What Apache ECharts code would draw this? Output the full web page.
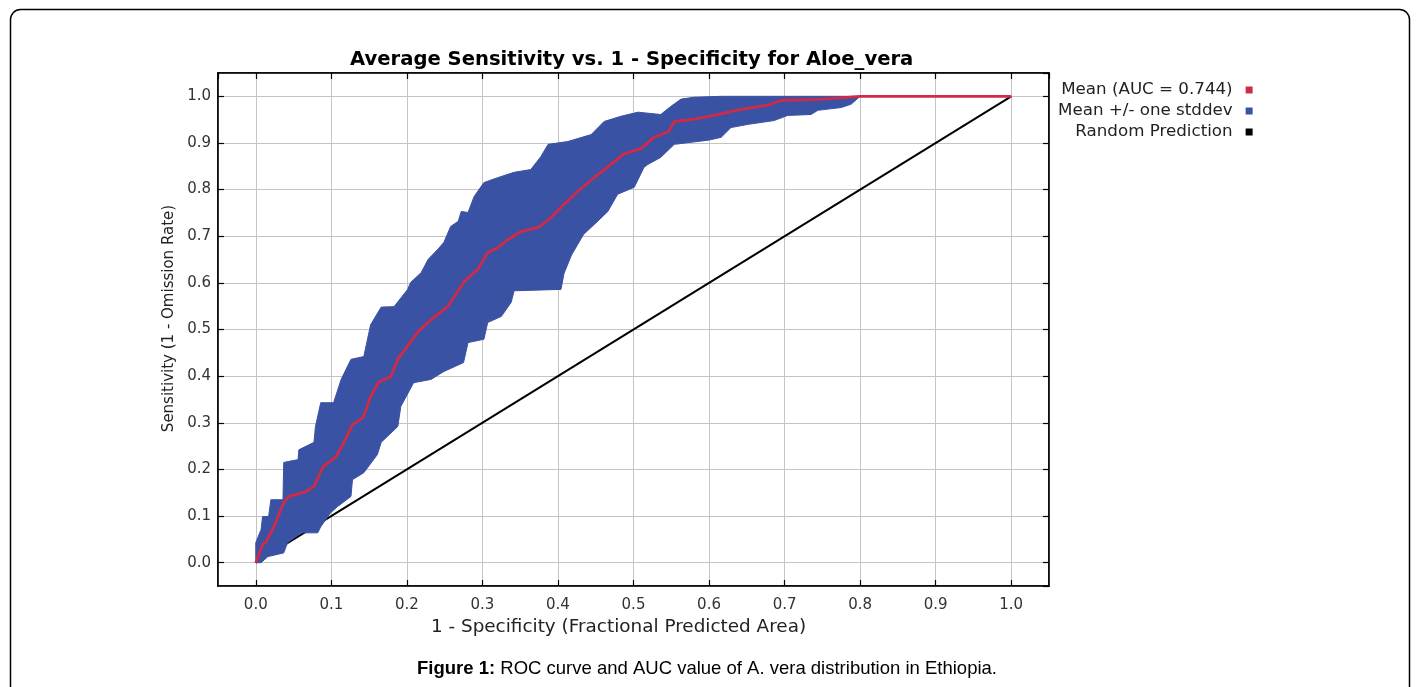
<!DOCTYPE html>
<html>
<head>
<meta charset="utf-8">
<script src="https://cdn.jsdelivr.net/npm/echarts@6/dist/echarts.min.js"></script>
<style>
html,body{margin:0;padding:0;background:#fff;}
#chart{width:1416px;height:687px;}
</style>
</head>
<body>
<div id="chart"></div>
<script>
// ---- data ----
const titleText = 'Average Sensitivity vs. 1 - Specificity for Aloe_vera';
const xAxisName = '1 - Specificity (Fractional Predicted Area)';
const yAxisName = 'Sensitivity (1 - Omission Rate)';
const seriesNames = ['Mean (AUC = 0.744)', 'Mean +/- one stddev', 'Random Prediction'];
const captionBold = 'Figure 1:';
const captionText = ' ROC curve and AUC value of A. vera distribution in Ethiopia.';

const meanX = [0, 0.009, 0.013, 0.024, 0.037, 0.044, 0.066, 0.077, 0.089, 0.106, 0.115, 0.128, 0.142, 0.152, 0.163, 0.179, 0.189, 0.195, 0.215, 0.232, 0.254, 0.275, 0.294, 0.307, 0.321, 0.334, 0.351, 0.374, 0.391, 0.404, 0.426, 0.448, 0.470, 0.487, 0.510, 0.527, 0.546, 0.554, 0.580, 0.607, 0.642, 0.678, 0.695, 0.752, 0.800, 1.0];
const meanY = [0, 0.039, 0.043, 0.077, 0.129, 0.142, 0.152, 0.163, 0.206, 0.227, 0.253, 0.296, 0.311, 0.356, 0.388, 0.399, 0.440, 0.451, 0.496, 0.521, 0.549, 0.601, 0.629, 0.665, 0.676, 0.693, 0.710, 0.719, 0.740, 0.762, 0.796, 0.826, 0.854, 0.876, 0.888, 0.912, 0.924, 0.946, 0.951, 0.959, 0.972, 0.981, 0.991, 0.994, 1.0, 1.0];

const upperX = [0, 0, 0.007, 0.009, 0.017, 0.020, 0.036, 0.037, 0.056, 0.057, 0.077, 0.079, 0.086, 0.103, 0.113, 0.126, 0.143, 0.152, 0.166, 0.183, 0.201, 0.205, 0.219, 0.228, 0.241, 0.249, 0.258, 0.268, 0.272, 0.281, 0.289, 0.302, 0.321, 0.342, 0.364, 0.377, 0.387, 0.413, 0.444, 0.461, 0.483, 0.506, 0.536, 0.550, 0.563, 0.580, 0.616, 0.800];
const upperY = [0, 0.043, 0.071, 0.099, 0.099, 0.135, 0.135, 0.215, 0.221, 0.242, 0.258, 0.292, 0.343, 0.343, 0.393, 0.436, 0.442, 0.510, 0.548, 0.549, 0.586, 0.601, 0.622, 0.650, 0.672, 0.687, 0.721, 0.732, 0.753, 0.751, 0.785, 0.815, 0.826, 0.837, 0.843, 0.870, 0.897, 0.903, 0.918, 0.946, 0.957, 0.966, 0.961, 0.979, 0.994, 0.998, 1.0, 1.0];

const lowerX = [0, 0.007, 0.016, 0.037, 0.042, 0.060, 0.082, 0.086, 0.099, 0.108, 0.126, 0.128, 0.143, 0.161, 0.166, 0.188, 0.192, 0.209, 0.232, 0.249, 0.275, 0.281, 0.302, 0.307, 0.325, 0.338, 0.342, 0.404, 0.408, 0.418, 0.426, 0.434, 0.448, 0.466, 0.479, 0.501, 0.514, 0.519, 0.536, 0.554, 0.599, 0.616, 0.629, 0.652, 0.686, 0.704, 0.735, 0.744, 0.775, 0.788, 0.800];
const lowerY = [0, 0.0, 0.013, 0.021, 0.043, 0.064, 0.064, 0.077, 0.107, 0.120, 0.142, 0.178, 0.193, 0.232, 0.258, 0.292, 0.335, 0.386, 0.393, 0.410, 0.429, 0.472, 0.479, 0.515, 0.528, 0.558, 0.583, 0.586, 0.620, 0.660, 0.682, 0.704, 0.725, 0.753, 0.790, 0.805, 0.848, 0.854, 0.869, 0.897, 0.906, 0.912, 0.933, 0.940, 0.948, 0.959, 0.961, 0.970, 0.976, 0.983, 1.0];

const randomX = [0, 1];
const randomY = [0, 1];

const axisMin = -0.05;
const axisMax = 1.05;

// ---- styles ----
const RED = '#d02a48';
const BLUE = '#3a52a3';
const BLACK = '#000000';
const FONT = 'DejaVu Sans';

const zip = (xs, ys) => xs.map((x, i) => [x, ys[i]]);

const chart = echarts.init(document.getElementById('chart'), null, {renderer: 'canvas'});

const baseAxis = {
  min: axisMin, max: axisMax, splitNumber: 11, type: 'value',
  axisLine: {show: true, onZero: false, lineStyle: {color: '#000', width: 1.5}},
  axisTick: {show: true, inside: true, length: 6, lineStyle: {color: '#000', width: 1.2}},
};

chart.setOption({
  animation: false,
  backgroundColor: '#fff',
  title: {
    text: titleText, left: 345, top: 45,
    textStyle: {fontFamily: FONT, fontWeight: 'bold', fontSize: 19.6, color: '#000'}
  },
  legend: {
    orient: 'vertical', left: 1053, top: 76, align: 'right',
    itemWidth: 7, itemHeight: 7, itemGap: 3,
    icon: 'rect',
    textStyle: {fontFamily: FONT, fontSize: 16.7, lineHeight: 18, color: '#222', padding: [0, 8, 0, 0]},
    data: seriesNames
  },
  grid: {left: 218, right: 367, top: 73, bottom: 101, show: true, borderColor: '#000', borderWidth: 1.5, backgroundColor: '#fff'},
  xAxis: [
    Object.assign({}, baseAxis, {
      position: 'bottom',
      name: xAxisName, nameLocation: 'middle', nameGap: 32,
      nameTextStyle: {fontFamily: FONT, fontSize: 18.4, color: '#222', padding: [0, 30, 0, 0]},
      axisLabel: {show: true, margin: 12, fontFamily: FONT, fontSize: 15, color: '#333',
        showMinLabel: false, showMaxLabel: false, formatter: v => v.toFixed(1)},
      splitLine: {show: true, lineStyle: {color: '#c4c4c4', width: 1}}
    }),
    Object.assign({}, baseAxis, {
      position: 'top', axisLabel: {show: false}, splitLine: {show: false}
    })
  ],
  yAxis: [
    Object.assign({}, baseAxis, {
      position: 'left',
      name: yAxisName, nameLocation: 'middle', nameGap: 38, nameRotate: 90,
      nameTextStyle: {fontFamily: FONT, fontSize: 15, color: '#222', padding: [0, 0, 0, 22]},
      axisLabel: {show: true, margin: 7, fontFamily: FONT, fontSize: 15, color: '#333',
        showMinLabel: false, showMaxLabel: false, formatter: v => v.toFixed(1)},
      splitLine: {show: true, lineStyle: {color: '#c4c4c4', width: 1}}
    }),
    Object.assign({}, baseAxis, {
      position: 'right', axisLabel: {show: false}, splitLine: {show: false}
    })
  ],
  graphic: [
    {type: 'rect', left: 8, top: 7, shape: {width: 1399, height: 720, r: 10},
     style: {fill: 'none', stroke: '#000', lineWidth: 1.5}, z: 100, silent: true},
    {type: 'text', x: 707, y: 669, z: 100,
     style: {
       text: '{b|' + captionBold + '}{n|' + captionText + '}',
       align: 'center', verticalAlign: 'middle',
       rich: {
         b: {fontFamily: 'Liberation Sans', fontWeight: 'bold', fontSize: 18.5, fill: '#000'},
         n: {fontFamily: 'Liberation Sans', fontSize: 18.5, fill: '#000'}
       }
     }}
  ],
  series: [
    {
      name: seriesNames[2], type: 'line', xAxisIndex: 0, yAxisIndex: 0,
      data: zip(randomX, randomY), symbol: 'none', z: 2,
      lineStyle: {color: BLACK, width: 2}, itemStyle: {color: BLACK}
    },
    {
      name: seriesNames[1], type: 'custom', xAxisIndex: 0, yAxisIndex: 0, z: 3,
      itemStyle: {color: BLUE},
      data: [[0, 0]],
      renderItem: function (params, api) {
        if (params.dataIndex !== 0) return null;
        const pts = [];
        for (let i = 0; i < upperX.length; i++) pts.push(api.coord([upperX[i], upperY[i]]));
        for (let i = lowerX.length - 1; i >= 0; i--) pts.push(api.coord([lowerX[i], lowerY[i]]));
        return {type: 'polygon', shape: {points: pts}, style: {fill: BLUE, stroke: BLUE, lineWidth: 1}};
      }
    },
    {
      name: seriesNames[0], type: 'line', xAxisIndex: 0, yAxisIndex: 0,
      data: zip(meanX, meanY), symbol: 'none', z: 4,
      lineStyle: {color: RED, width: 2.8}, itemStyle: {color: RED}
    }
  ]
});
</script>
</body>
</html>
